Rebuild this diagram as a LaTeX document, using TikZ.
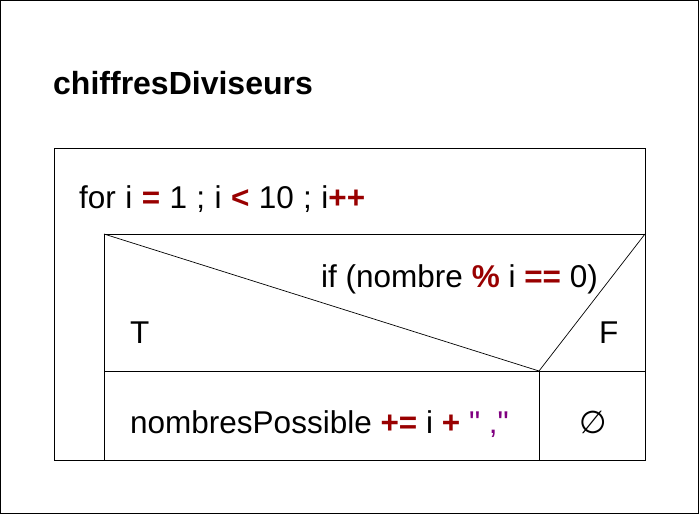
\documentclass[tikz,border=0pt]{standalone}
\usepackage{fontspec}
\setmainfont{Liberation Sans}
\newfontfamily\qfont{Liberation Sans}
\definecolor{opred}{HTML}{990000}
\definecolor{strpurple}{HTML}{800080}
\newcommand{\op}[1]{\textbf{\textcolor{opred}{#1}}}
\begin{document}
\begin{tikzpicture}[x=1pt,y=-1pt,
  frame/.style={draw=black,line width=1pt},
  thin/.style={draw=black,line width=0.7pt},
  txt/.style={anchor=base west,inner sep=0pt,font=\fontsize{31.5}{36}\selectfont},
  ttl/.style={anchor=base west,inner sep=0pt,font=\fontsize{32}{36}\selectfont\bfseries}]
\useasboundingbox (0,0) rectangle (699,514);
\fill[white] (0,0) rectangle (699,514);
\draw[frame] (0.5,0.5) rectangle (698.5,513.5);
\node[ttl] (title) at (53,94) {chiffresDiviseurs};
% for loop block
\draw[frame] (54,148) rectangle (645,460);
\draw[frame] (104,234) rectangle (645,460);
\node[txt] (forhead) at (79,208) {\spaceskip=9.4pt for i \op{=} 1 ; i \op{<} 10 ; i\op{++}};
% if block
\coordinate (tl) at (104,234);
\coordinate (tr) at (645,234);
\coordinate (apex) at (539,371);
\draw[frame] (104,371) -- (645,371);
\draw[frame] (apex) -- (539,460);
\draw[thin] (tl) -- (apex) -- (tr);
\node[txt] (cond) at (321,287) {if (nombre \op{\%} i \op{==} 0)};
\node[txt] (tlab) at (130,343) {T};
\node[txt] (flab) at (599,343) {F};
\node[txt] (stmt) at (130,433) {nombresPossible \op{+=} i \op{+} \textcolor{strpurple}{\qfont"\ ,"}};
\node[txt,anchor=base] (empty) at (593,433) {\fontspec{DejaVu Sans}∅};
\end{tikzpicture}
\end{document}
